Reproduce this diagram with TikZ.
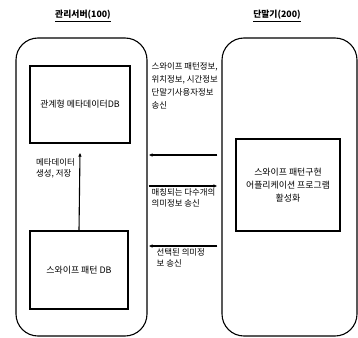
\documentclass[tikz,border=0pt]{standalone}
\usepackage{fontspec}
\setmainfont{Noto Sans CJK KR}
\usetikzlibrary{arrows.meta}
\begin{document}
\begin{tikzpicture}[x=1pt,y=-1pt,
  panel/.style={draw, line width=1.1pt, rounded corners=22pt, minimum width=131pt, minimum height=298pt, inner sep=0pt},
  box/.style={draw, line width=1.1pt, inner sep=0pt, align=center, font=\fontsize{8.9}{12.8}\selectfont},
  lab/.style={font=\fontsize{8.4}{#1}\selectfont, align=left, anchor=base west, inner sep=0pt},
  lab/.default=11,
  ttl/.style={font=\fontsize{8.8}{11}\selectfont\bfseries, inner sep=0pt},
  arr/.style={line width=1.1pt, -{Latex[length=4pt,width=3.5pt]}}]
\useasboundingbox (0,0) rectangle (358,337);
% panels
\node[panel] (srv) at (81.5,187) {};
\node[panel, minimum width=135pt] (term) at (289.5,187) {};
% titles
\node[ttl] (t1) at (83,16) {\underline{관리서버(100)}};
\node[ttl] (t2) at (277,16) {\underline{단말기(200)}};
% inner boxes
\node[box, minimum width=100pt, minimum height=77pt] (meta) at (80,104.5) {관계형 메타데이터DB};
\node[box, minimum width=98pt, minimum height=78pt] (pdb) at (79,270) {스와이프 패턴 DB};
\node[box, minimum width=104pt, minimum height=92pt] (app) at (288,185) {스와이프 패턴구현\\어플리케이션 프로그램\\활성화};
% vertical arrow
\draw[arr] (pdb.north) -- ([yshift=-9pt]meta.south);
\node[lab] (l0) at (36,176) {메타데이터\\생성, 저장};
% horizontal arrows
\coordinate (a1) at (0,155);
\coordinate (a2) at (0,186);
\coordinate (a3) at (0,246);
\draw[arr] ([xshift=-4pt]term.west |- a1) -- ([xshift=1pt]srv.east |- a1);
\draw[arr] ([xshift=1pt]srv.east |- a2) -- ([xshift=-4pt]term.west |- a2);
\draw[arr] ([xshift=-4pt]term.west |- a3) -- ([xshift=1pt]srv.east |- a3);
% labels
\node[lab=12.8] (l1) at (151.5,108) {스와이프 패턴정보,\\위치정보, 시간정보\\단말기사용자정보\\송신};
\node[lab] (l2) at (151.5,206.5) {매칭되는 다수개의\\의미정보 송신};
\node[lab] (l3) at (156.5,266.5) {선택된 의미정\\보 송신};
\end{tikzpicture}
\end{document}
